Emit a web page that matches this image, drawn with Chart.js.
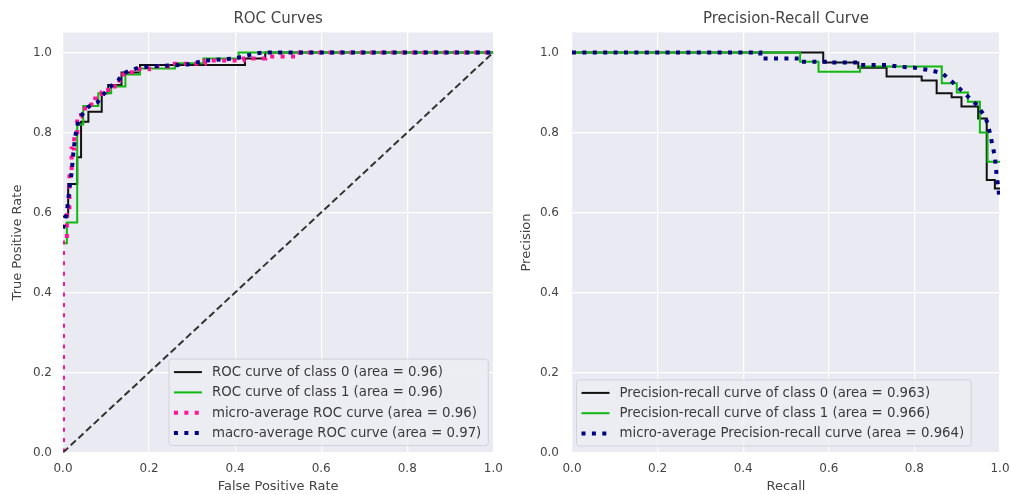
<!DOCTYPE html>
<html>
<head>
<meta charset="utf-8">
<script src="https://cdn.jsdelivr.net/npm/chart.js@4.4.1/dist/chart.umd.min.js"></script>
<style>
  body { margin: 0; background: #fff; width: 1011px; height: 494px; overflow: hidden; position: relative; }
  canvas { position: absolute; top: 0; }
  #roc { left: 0; }
  #pr { left: 505px; }
</style>
</head>
<body>
<canvas id="roc" width="505" height="494"></canvas>
<canvas id="pr" width="506" height="494"></canvas>
<script>
// tick values shared by both plots
const axisTicks = [0, 0.2, 0.4, 0.6, 0.8, 1.0];

// ROC curves, [false positive rate, true positive rate]
const rocClass0 = [[0,0.59],[0.012,0.59],[0.012,0.671],[0.033,0.671],[0.033,0.738],[0.042,0.738],[0.042,0.827],
  [0.059,0.827],[0.059,0.852],[0.09,0.852],[0.09,0.898],[0.105,0.898],[0.105,0.919],[0.136,0.919],[0.136,0.95],
  [0.179,0.95],[0.179,0.969],[0.423,0.969],[0.423,0.985],[0.47,0.985],[0.47,1],[1,1]];
const rocClass1 = [[0,0.523],[0.009,0.523],[0.009,0.575],[0.033,0.575],[0.033,0.82],[0.047,0.82],[0.047,0.866],
  [0.082,0.866],[0.082,0.898],[0.112,0.898],[0.112,0.915],[0.145,0.915],[0.145,0.945],[0.179,0.945],[0.179,0.96],
  [0.26,0.96],[0.26,0.973],[0.326,0.973],[0.326,0.985],[0.408,0.985],[0.408,1],[1,1]];
const rocMicro = [[0,0],[0,0.53],[0.009,0.53],[0.009,0.6],[0.015,0.6],[0.015,0.7],[0.02,0.7],[0.02,0.76],
  [0.026,0.76],[0.026,0.8],[0.033,0.8],[0.033,0.84],[0.042,0.84],[0.042,0.86],[0.06,0.86],[0.06,0.87],
  [0.075,0.87],[0.075,0.885],[0.09,0.885],[0.09,0.9],[0.105,0.9],[0.105,0.915],[0.12,0.915],[0.12,0.93],
  [0.14,0.93],[0.14,0.945],[0.16,0.945],[0.16,0.958],[0.2,0.958],[0.2,0.965],[0.26,0.965],[0.26,0.972],
  [0.33,0.972],[0.33,0.98],[0.42,0.98],[0.42,0.985],[0.47,0.985],[0.47,0.99],[0.55,0.99],[0.55,1],[1,1]];
const rocMacro = [[0,0.56],[0.009,0.6],[0.012,0.63],[0.015,0.66],[0.02,0.7],[0.025,0.76],[0.03,0.8],
  [0.037,0.835],[0.06,0.865],[0.08,0.875],[0.09,0.89],[0.107,0.912],[0.128,0.93],[0.14,0.948],[0.17,0.96],
  [0.2,0.965],[0.29,0.97],[0.33,0.98],[0.4,0.985],[0.45,0.998],[0.47,1],[1,1]];
const chanceLine = [[0,0],[1,1]];
const rocLabels = [
  'ROC curve of class 0 (area = 0.96)',
  'ROC curve of class 1 (area = 0.96)',
  'micro-average ROC curve (area = 0.96)',
  'macro-average ROC curve (area = 0.97)'
];

// precision-recall curves, [recall, precision]
const prClass0 = [[0,1],[0.587,1],[0.587,0.975],[0.669,0.975],[0.669,0.962],[0.735,0.962],[0.735,0.94],
  [0.817,0.94],[0.817,0.93],[0.852,0.93],[0.852,0.898],[0.887,0.898],[0.887,0.888],[0.91,0.888],[0.91,0.865],
  [0.949,0.865],[0.949,0.835],[0.969,0.835],[0.969,0.681],[0.988,0.681],[0.988,0.66],[1,0.66]];
const prClass1 = [[0,1],[0.533,1],[0.533,0.977],[0.576,0.977],[0.576,0.952],[0.673,0.952],[0.673,0.965],
  [0.864,0.965],[0.864,0.923],[0.899,0.923],[0.899,0.9],[0.925,0.9],[0.925,0.877],[0.953,0.877],[0.953,0.8],
  [0.971,0.8],[0.971,0.727],[1,0.727]];
const prMicro = [[0,1],[0.44,1],[0.44,0.985],[0.525,0.985],[0.525,0.977],[0.6,0.977],[0.6,0.975],[0.67,0.975],
  [0.67,0.969],[0.735,0.969],[0.76,0.965],[0.8,0.962],[0.84,0.955],[0.865,0.948],[0.88,0.935],[0.9,0.915],
  [0.915,0.9],[0.93,0.885],[0.945,0.87],[0.955,0.855],[0.965,0.84],[0.972,0.82],[0.978,0.79],[0.983,0.765],
  [0.988,0.74],[0.99,0.715],[0.993,0.685],[0.996,0.665],[0.998,0.64]];
const prLabels = [
  'Precision-recall curve of class 0 (area = 0.963)',
  'Precision-recall curve of class 1 (area = 0.966)',
  'micro-average Precision-recall curve (area = 0.964)'
];

Chart.defaults.font.family = "'DejaVu Sans', sans-serif";
Chart.defaults.color = '#444';

const toPoints = arr => arr.map(p => ({ x: p[0], y: p[1] }));

// grey axes background (seaborn darkgrid)
const plotBg = {
  id: 'plotBg',
  beforeDraw(chart) {
    const { ctx, chartArea: a } = chart;
    ctx.save();
    ctx.fillStyle = '#eaeaf2';
    ctx.fillRect(a.left, a.top, a.right - a.left, a.bottom - a.top);
    ctx.restore();
  }
};

// matplotlib-like framed legend inside the axes
const boxLegend = {
  id: 'boxLegend',
  afterDraw(chart, args, opts) {
    const { ctx, chartArea: a } = chart;
    const items = chart.data.datasets.filter(d => d.label);
    ctx.save();
    ctx.font = '13.3px "DejaVu Sans", sans-serif';
    const textW = Math.max(...items.map(d => ctx.measureText(d.label).width));
    const rowH = 20.3, sample = 28;
    const w = 5 + sample + 10 + textW + 7;
    const h = (items.length - 1) * rowH + 25.5;
    const x0 = opts.corner === 'left' ? a.left + 4.5 : a.right - 5 - w;
    const y0 = a.bottom - opts.bottomGap - h;
    ctx.beginPath();
    ctx.roundRect(x0, y0, w, h, 3);
    ctx.fillStyle = 'rgba(236,236,243,0.85)';
    ctx.fill();
    ctx.strokeStyle = '#d2d2da';
    ctx.lineWidth = 1;
    ctx.stroke();
    items.forEach((d, i) => {
      const y = y0 + 13 + i * rowH;
      ctx.beginPath();
      ctx.setLineDash(d.borderDash || []);
      ctx.lineWidth = d.borderWidth;
      ctx.strokeStyle = d.borderColor;
      ctx.moveTo(x0 + 5, y);
      ctx.lineTo(x0 + 5 + sample, y);
      ctx.stroke();
      ctx.setLineDash([]);
      ctx.fillStyle = '#3a3a3a';
      ctx.textBaseline = 'middle';
      ctx.fillText(d.label, x0 + 5 + sample + 10, y + 0.5);
    });
    ctx.restore();
  }
};

function makeOptions(title, xTitle, yTitle, side) {
  return {
    responsive: false,
    animation: false,
    events: [],
    layout: { padding: { left: 0, right: side.right, top: 0, bottom: 0 } },
    plugins: {
      legend: { display: false },
      tooltip: { enabled: false },
      title: {
        display: true, text: title, fullSize: false, color: '#444',
        font: { size: 15, weight: 'normal' }, padding: { top: 10.5, bottom: 4 }
      },
      boxLegend: side.legend
    },
    scales: {
      x: {
        type: 'linear', min: 0, max: 1,
        afterBuildTicks: s => { s.ticks = axisTicks.map(v => ({ value: v })); },
        afterFit: s => { s.height = 41.5; s.paddingLeft = 0; s.paddingRight = 0; },
        ticks: { callback: v => v.toFixed(1), padding: 9, maxRotation: 0, autoSkip: false, font: { size: 12 } },
        grid: { color: '#fff', lineWidth: 1.2, drawTicks: false },
        border: { display: false },
        title: { display: true, text: xTitle, font: { size: 13 }, padding: 0 }
      },
      y: {
        type: 'linear', min: 0, max: 1.05,
        afterBuildTicks: s => { s.ticks = axisTicks.map(v => ({ value: v })); },
        afterFit: s => { s.width = side.left; s.paddingTop = 0; s.paddingBottom = 0; },
        ticks: { callback: v => v.toFixed(1), padding: side.tickPad, autoSkip: false, font: { size: 12 } },
        grid: { color: '#fff', lineWidth: 1.2, drawTicks: false },
        border: { display: false },
        title: { display: true, text: yTitle, font: { size: 13 }, padding: { top: side.titlePad, bottom: 0 } }
      }
    }
  };
}

function curve(label, data, color, width, dash, order) {
  return {
    label: label, data: toPoints(data), showLine: true, pointRadius: 0,
    borderColor: color, borderWidth: width, borderDash: dash, borderCapStyle: 'butt',
    tension: 0, fill: false, order: order
  };
}

const dots = [4, 6.4];

new Chart(document.getElementById('roc'), {
  type: 'scatter',
  data: {
    datasets: [
      curve(rocLabels[0], rocClass0, '#111', 2, [], 5),
      curve(rocLabels[1], rocClass1, '#10b810', 2, [], 4),
      curve(rocLabels[2], rocMicro, '#ff1493', 4, dots, 3),
      curve(rocLabels[3], rocMacro, '#000080', 4, dots, 2),
      curve(null, chanceLine, '#333', 2, [7, 3.5], 1)
    ]
  },
  options: makeOptions('ROC Curves', 'False Positive Rate', 'True Positive Rate',
    { left: 63, right: 11.7, tickPad: 11, titlePad: 9.7, legend: { corner: 'right', bottomGap: 7 } }),
  plugins: [plotBg, boxLegend]
});

new Chart(document.getElementById('pr'), {
  type: 'scatter',
  data: {
    datasets: [
      curve(prLabels[0], prClass0, '#111', 2, [], 3),
      curve(prLabels[1], prClass1, '#10b810', 2, [], 2),
      curve(prLabels[2], prMicro, '#000080', 4, dots, 1)
    ]
  },
  options: makeOptions('Precision-Recall Curve', 'Recall', 'Precision',
    { left: 67, right: 11, tickPad: 13, titlePad: 14.2, legend: { corner: 'left', bottomGap: 6.5 } }),
  plugins: [plotBg, boxLegend]
});
</script>
</body>
</html>
